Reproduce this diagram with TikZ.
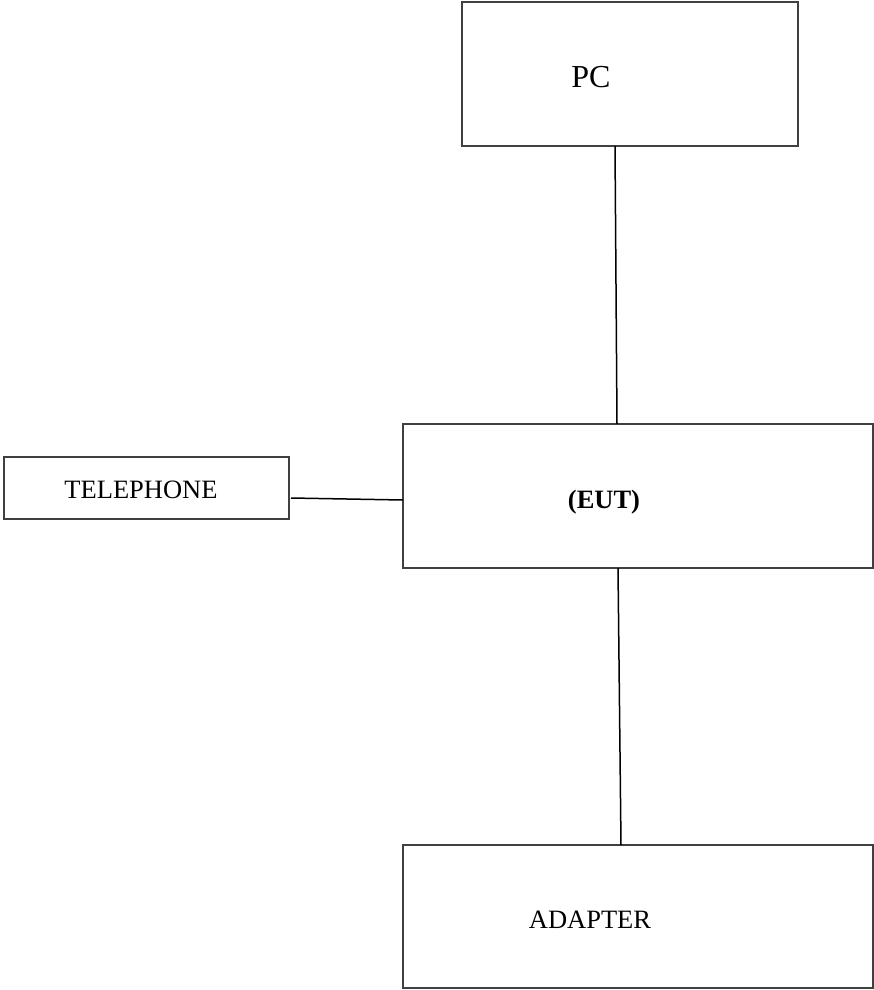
\documentclass[tikz,border=0pt]{standalone}
\usepackage{fontspec}
\setmainfont{Liberation Serif}
\usepackage{xcolor}
\usetikzlibrary{positioning}
\definecolor{boxline}{RGB}{64,64,64}
\tikzstyle{unitbox} = [draw=boxline, line width=1.5pt, inner sep=0pt, outer sep=0pt]
\tikzstyle{unitlabel} = [inner sep=0pt, anchor=base, font=\fontsize{26.5}{30}\selectfont]
\tikzstyle{cable} = [draw=black, line width=1.5pt]

\begin{document}
\begin{tikzpicture}[x=1pt, y=-1pt]
    \useasboundingbox (0,0) rectangle (874,990);
    % equipment boxes
    \node[unitbox, minimum width=336pt, minimum height=144pt] (pc) at (630,74) {};
    \node[unitbox, minimum width=470pt, minimum height=144pt] (eut) at (638,496) {};
    \node[unitbox, minimum width=285pt, minimum height=62pt] (tel) at (146.5,488) {};
    \node[unitbox, minimum width=470pt, minimum height=143pt] (adapter) at (638,916.5) {};
    % labels
    \node[unitlabel, font=\fontsize{32}{36}\selectfont] (pclabel) at (591,87) {PC};
    \node[unitlabel, font=\bfseries\fontsize{26.5}{30}\selectfont] (eutlabel) at (604,508) {(EUT)};
    \node[unitlabel] (tellabel) at (141,498) {TELEPHONE};
    \node[unitlabel] (adapterlabel) at (590,928) {ADAPTER};
    % cables
    \draw[cable] ([xshift=-15pt]pc.south) -- ([xshift=-21pt]eut.north);
    \draw[cable] ([shift={(2pt,-10pt)}]tel.east) -- ([yshift=-4pt]eut.west);
    \draw[cable] ([xshift=-20pt]eut.south) -- ([xshift=-17pt]adapter.north);
\end{tikzpicture}
\end{document}
